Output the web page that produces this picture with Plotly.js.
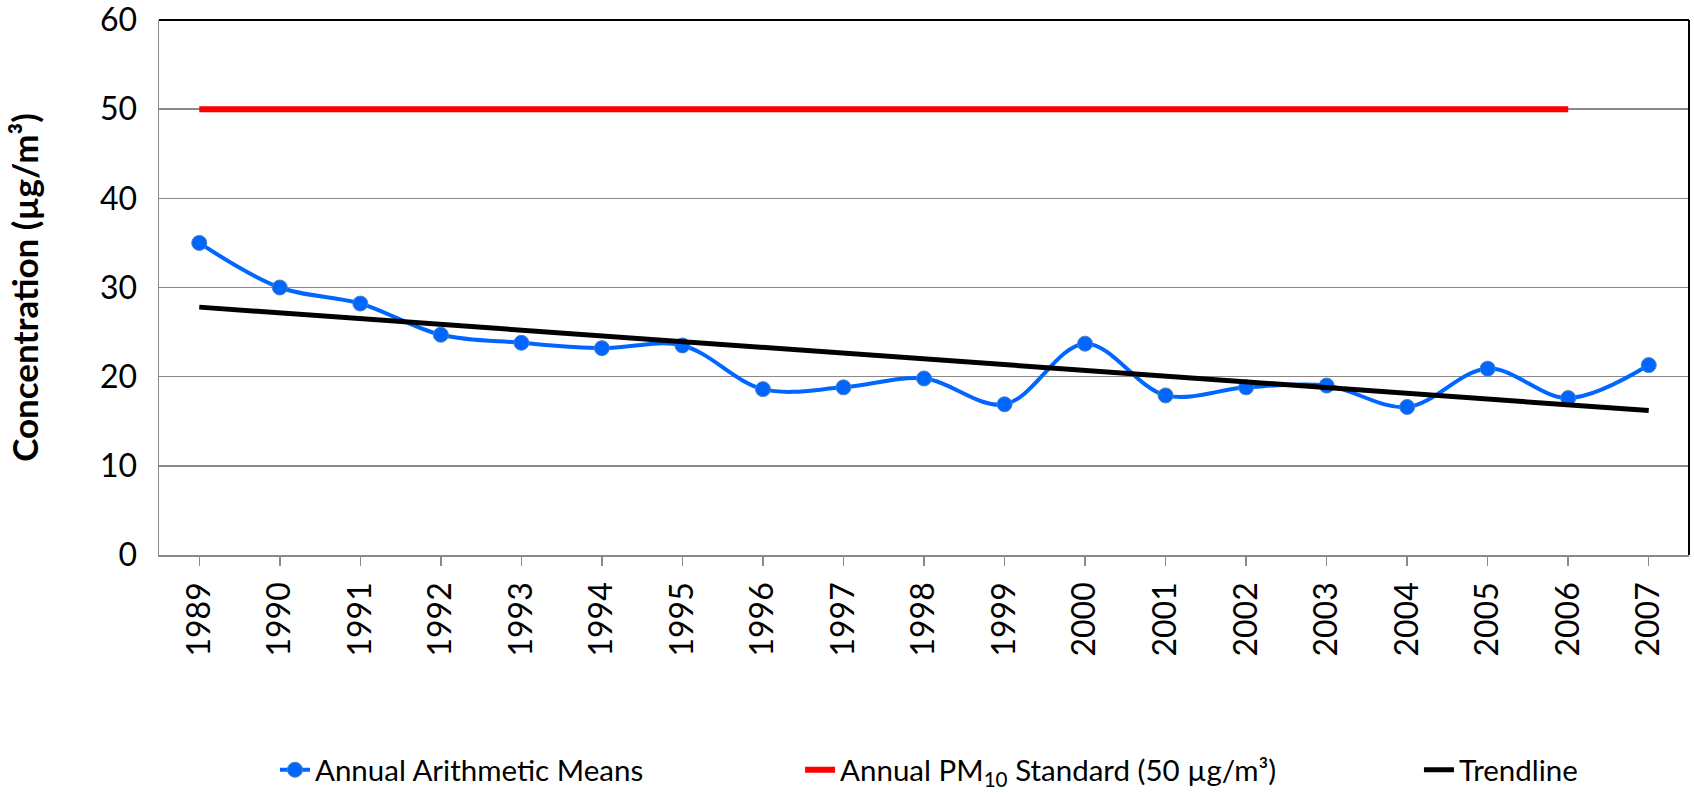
<!DOCTYPE html>
<html>
<head>
<meta charset="utf-8">
<script src="https://cdn.plot.ly/plotly-3.0.1.min.js"></script>
<style>
  html, body { margin: 0; padding: 0; background: #fff; }
  #chart { width: 1694px; height: 793px; }
</style>
</head>
<body>
<div id="chart"></div>
<script>
const years = ['1989','1990','1991','1992','1993','1994','1995','1996','1997','1998',
               '1999','2000','2001','2002','2003','2004','2005','2006','2007'];
const annualMeans = [35.0, 30.0, 28.2, 24.7, 23.8, 23.2, 23.5, 18.6, 18.8, 19.8,
                     16.9, 23.7, 17.9, 18.8, 19.0, 16.6, 20.9, 17.6, 21.3];
const standardYears = ['1989', '2006'];
const standardValues = [50, 50];
const trendYears = ['1989', '2007'];
const trendValues = [27.8, 16.2];
const yTicks = [0, 10, 20, 30, 40, 50, 60];

const FONT = 'Lato, "Open Sans", "DejaVu Sans", sans-serif';

const traces = [
  {
    x: years, y: annualMeans, type: 'scatter', mode: 'lines+markers',
    name: 'Annual Arithmetic Means',
    line: { color: '#0066FF', width: 4, shape: 'spline', smoothing: 1 },
    marker: { color: '#0066FF', size: 15, line: { color: '#4F81BD', width: 1 } },
    legend: 'legend'
  },
  {
    x: standardYears, y: standardValues, type: 'scatter', mode: 'lines',
    name: 'Annual PM<sub>10</sub> Standard (50 µg/m³)',
    line: { color: '#FF0000', width: 6 },
    legend: 'legend2'
  },
  {
    x: trendYears, y: trendValues, type: 'scatter', mode: 'lines',
    name: 'Trendline',
    line: { color: '#000000', width: 5 },
    legend: 'legend3'
  }
];

const legendBase = {
  orientation: 'h', yanchor: 'middle', xanchor: 'left', y: -0.402,
  bgcolor: 'rgba(0,0,0,0)', borderwidth: 0,
  font: { family: FONT, size: 29.5, color: '#000' }
};

const layout = {
  width: 1694, height: 793,
  margin: { l: 159, r: 5, t: 20, b: 238, autoexpand: false },
  paper_bgcolor: '#fff', plot_bgcolor: '#fff',
  showlegend: true,
  hovermode: false,
  xaxis: {
    type: 'category',
    range: [-0.5, 18.5],
    tickvals: years, ticktext: years,
    tickangle: -90,
    ticks: 'outside', ticklen: 9, tickwidth: 1.5, tickcolor: '#898989',
    showline: true, linecolor: '#898989', linewidth: 1.5,
    showgrid: false, zeroline: false, automargin: false,
    tickfont: { family: FONT, size: 32, color: '#000' },
    ticklabelstandoff: 4, ticklabeloverflow: 'allow'
  },
  yaxis: {
    range: [0, 60],
    tickvals: yTicks, ticktext: yTicks.map(String),
    showline: true, linecolor: '#898989', linewidth: 1.5,
    showgrid: true, gridcolor: '#898989', gridwidth: 1.5,
    zeroline: false, ticks: '', automargin: false,
    tickfont: { family: FONT, size: 32, color: '#000' },
    ticklabelstandoff: 14, ticklabeloverflow: 'allow',
    title: { text: '<b>Concentration (µg/m³)</b>', font: { family: FONT, size: 35, color: '#000' }, standoff: 50 }
  },
  shapes: [
    { type: 'line', xref: 'paper', yref: 'paper', x0: 0, x1: 1, y0: 1, y1: 1, line: { color: '#000', width: 2 } },
    { type: 'line', xref: 'paper', yref: 'paper', x0: 1, x1: 1, y0: 0, y1: 1, line: { color: '#000', width: 2 } }
  ],
  legend: Object.assign({}, legendBase, { x: 0.0758 }),
  legend2: Object.assign({}, legendBase, { x: 0.419 }),
  legend3: Object.assign({}, legendBase, { x: 0.8235 })
};

Plotly.newPlot('chart', traces, layout, { displayModeBar: false, staticPlot: true });
</script>
</body>
</html>
